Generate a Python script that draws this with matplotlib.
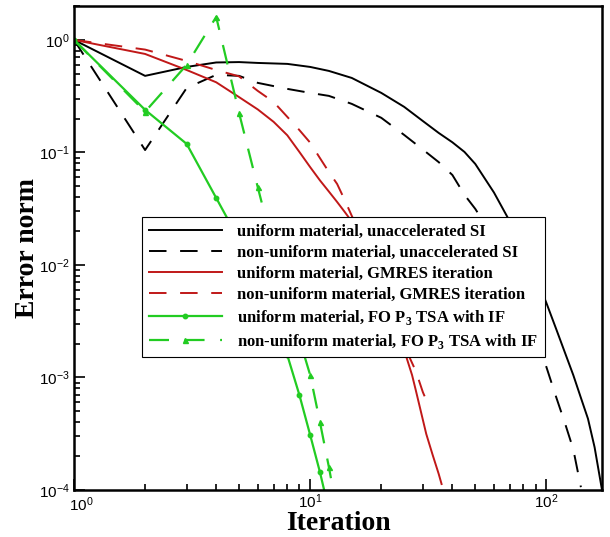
import math

import matplotlib

matplotlib.use("Agg")
import matplotlib.pyplot as plt
from matplotlib.ticker import FuncFormatter, LogLocator, NullFormatter

# error norm vs iteration, read per curve
uni_si_iter = [1, 2, 3, 4, 5, 6, 8, 10, 12, 15, 20, 25, 30, 35, 40, 45, 50, 60, 70, 80,
               90, 100, 110, 120, 130, 140, 150, 160, 172]
uni_si_err = [1.0, 0.479, 0.575, 0.63, 0.635, 0.624, 0.612, 0.575, 0.53, 0.459, 0.338,
              0.254, 0.19, 0.149, 0.123, 0.101, 0.079, 0.044, 0.0244, 0.0139, 8.0e-3,
              4.6e-3, 2.7e-3, 1.65e-3, 1.05e-3, 6.6e-4, 4.3e-4, 2.4e-4, 1.0e-4]

non_si_iter = [1, 2, 3, 4, 5, 6, 8, 10, 12, 15, 20, 25, 30, 35, 40, 45, 50, 60, 70, 80,
               90, 100, 110, 120, 130, 140]
non_si_err = [1.0, 0.105, 0.374, 0.489, 0.479, 0.415, 0.367, 0.338, 0.318, 0.27, 0.203,
              0.143, 0.106, 0.082, 0.063, 0.042, 0.0315, 0.0172, 9.1e-3, 4.75e-3,
              2.44e-3, 1.24e-3, 6.7e-4, 3.9e-4, 2.3e-4, 1.06e-4]

uni_gmres_iter = [1, 2, 3, 4, 5, 6, 7, 8, 9, 10, 11, 12, 13, 14, 15, 16, 18, 20, 22, 24,
                  25, 27, 28, 30, 31, 33, 35, 36]
uni_gmres_err = [1.0, 0.75, 0.54, 0.42, 0.31, 0.241, 0.187, 0.142, 0.101, 0.074, 0.0564,
                 0.0449, 0.0363, 0.0296, 0.0243, 0.0195, 0.0123, 7.4e-3, 4.4e-3, 2.56e-3,
                 1.75e-3, 1.05e-3, 7.7e-4, 4.2e-4, 3.15e-4, 2.05e-4, 1.39e-4, 1.13e-4]

non_gmres_iter = [1, 2, 3, 4, 5, 6, 7, 8, 9, 10, 11, 12, 13, 14, 15, 16, 18, 20, 22, 24,
                  26, 28, 30, 31]
non_gmres_err = [1.0, 0.82, 0.65, 0.54, 0.474, 0.352, 0.281, 0.207, 0.158, 0.122, 0.089,
                 0.067, 0.0525, 0.0378, 0.0273, 0.0206, 0.012, 7.1e-3, 4.3e-3, 2.64e-3,
                 1.6e-3, 1.14e-3, 7.4e-4, 6.3e-4]

uni_tsa_iter = [1, 2, 3, 4, 5, 6, 7, 8, 9, 10, 11, 12]
uni_tsa_err = [1.0, 0.239, 0.119, 0.0394, 0.0167, 7.5e-3, 3.45e-3, 1.58e-3, 7.0e-4,
               3.08e-4, 1.44e-4, 6.6e-5]

non_tsa_iter = [1, 2, 3, 4, 5, 6, 7, 8, 9, 10, 11, 12, 13]
non_tsa_err = [1.0, 0.23, 0.60, 1.6, 0.224, 0.049, 0.0139, 5.1e-3, 2.2e-3, 1.05e-3,
               4.0e-4, 1.6e-4, 6.4e-5]

labels = [
    "uniform material, unaccelerated SI",
    "non-uniform material, unaccelerated SI",
    "uniform material, GMRES iteration",
    "non-uniform material, GMRES iteration",
    "uniform material, FO P$_3$ TSA with IF",
    "non-uniform material, FO P$_3$ TSA with IF",
]

plt.rcParams["font.family"] = "Liberation Serif"
plt.rcParams["mathtext.fontset"] = "custom"
plt.rcParams["mathtext.rm"] = "Liberation Serif:bold"
plt.rcParams["mathtext.sf"] = "Liberation Sans"

RED = "#c01818"
GREEN = "#22cc22"
DASH = (9, 7)


def decade_label(v, _):
    return r"$\mathsf{10^{%d}}$" % round(math.log10(v))


def x_decade_label(v, pos):
    # 10^0 on the x axis is drawn separately, nudged away from the corner
    if round(math.log10(v)) == 0:
        return ""
    return decade_label(v, pos)


fig = plt.figure(figsize=(6.1, 5.37), dpi=100)
ax = fig.add_axes([0.1213, 0.0875, 0.8656, 0.9013])

ax.plot(uni_si_iter, uni_si_err, color="black", lw=1.4, label=labels[0])
ax.plot(non_si_iter, non_si_err, color="black", lw=1.4, dashes=DASH, label=labels[1])
ax.plot(uni_gmres_iter, uni_gmres_err, color=RED, lw=1.4, label=labels[2])
ax.plot(non_gmres_iter, non_gmres_err, color=RED, lw=1.4, dashes=DASH, label=labels[3])
ax.plot(uni_tsa_iter, uni_tsa_err, color=GREEN, lw=1.6, marker="o", ms=3.2,
        label=labels[4])
ax.plot(non_tsa_iter, non_tsa_err, color=GREEN, lw=1.6, dashes=DASH, marker="^", ms=3.6,
        label=labels[5])

ax.set_xscale("log")
ax.set_yscale("log")
ax.set_xlim(1, 172)
ax.set_ylim(1e-4, 2.0)

for axis in (ax.xaxis, ax.yaxis):
    axis.set_major_locator(LogLocator(base=10))
    axis.set_minor_locator(LogLocator(base=10, subs=range(2, 10)))
    axis.set_minor_formatter(NullFormatter())
ax.xaxis.set_major_formatter(FuncFormatter(x_decade_label))
ax.yaxis.set_major_formatter(FuncFormatter(decade_label))
ax.tick_params(which="both", direction="in", top=False, right=False, width=1.2,
               labelsize=11)
ax.tick_params(which="major", length=8)
ax.tick_params(which="minor", length=4)
ax.tick_params(axis="x", which="major", pad=2)
ax.tick_params(axis="y", which="major", pad=3)

ax.annotate(r"$\mathsf{10^{0}}$", xy=(1, 0), xycoords=("data", "axes fraction"),
            xytext=(5, -4), textcoords="offset points", ha="center", va="top",
            fontsize=11, annotation_clip=False)

for spine in ax.spines.values():
    spine.set_linewidth(1.8)

ax.set_xlabel("Iteration", fontsize=20, fontweight="bold", labelpad=0)
ax.set_ylabel("Error norm", fontsize=20, fontweight="bold", labelpad=-1)

leg = ax.legend(loc="upper left", bbox_to_anchor=(0.129, 0.564), borderaxespad=0,
                fancybox=False, framealpha=1, edgecolor="black", handlelength=4.4,
                labelspacing=0.3, borderpad=0.4, handletextpad=0.9,
                prop={"family": "Liberation Serif", "weight": "bold", "size": 12})
leg.get_frame().set_linewidth(0.8)

fig.savefig("out.png", dpi=100)
plt.close(fig)
